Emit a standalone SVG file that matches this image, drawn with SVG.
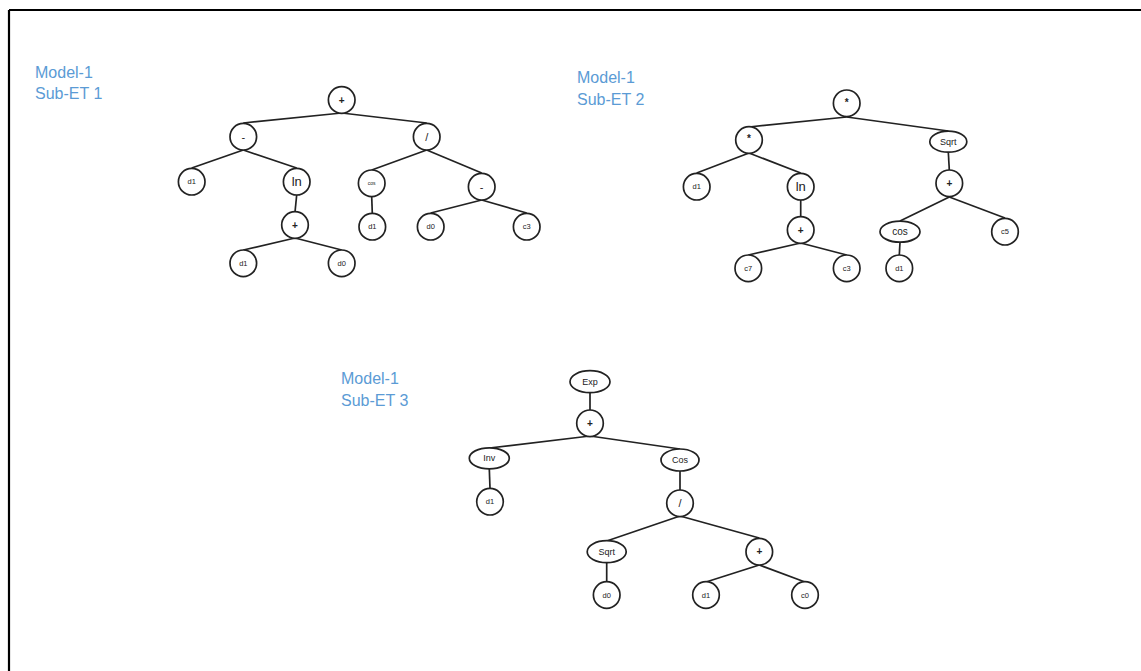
<svg xmlns="http://www.w3.org/2000/svg" width="1141" height="671" viewBox="0 0 1141 671">
<style>
.n{fill:#fff;stroke:#222;stroke-width:1.7}
.e{stroke:#222;stroke-width:1.7;fill:none}
.t{font-family:"Liberation Sans",Arial,sans-serif;fill:#222;text-anchor:middle;dominant-baseline:central}
.s{font-size:7.5px}
.m{font-size:9px}
.p{font-size:10px;font-weight:bold}
.o{font-size:11px}
.lbl{font-family:"Liberation Sans",Arial,sans-serif;font-size:16px;fill:#5b9bd5}
</style>
<rect width="1141" height="671" fill="#fff"/>
<path d="M9 10 H1141 M9 10 V671" stroke="#000" stroke-width="2.2" fill="none"/>
<g id="labels">
<text class="lbl" x="35" y="78">Model-1</text>
<text class="lbl" x="35" y="99">Sub-ET 1</text>
<text class="lbl" x="577" y="83">Model-1</text>
<text class="lbl" x="577" y="105">Sub-ET 2</text>
<text class="lbl" x="341" y="384">Model-1</text>
<text class="lbl" x="341" y="406">Sub-ET 3</text>
</g>
<g id="connectors" class="e">
<line x1="341.7" y1="113" x2="243.3" y2="123"/>
<line x1="341.7" y1="113" x2="426.7" y2="123"/>
<line x1="243.3" y1="150" x2="191.7" y2="168"/>
<line x1="243.3" y1="150" x2="296.7" y2="168"/>
<line x1="296.7" y1="195" x2="295" y2="212"/>
<line x1="295" y1="238" x2="243.3" y2="250"/>
<line x1="295" y1="238" x2="341.7" y2="250"/>
<line x1="426.7" y1="150" x2="371.7" y2="170"/>
<line x1="426.7" y1="150" x2="481.7" y2="173"/>
<line x1="371.7" y1="197" x2="372.3" y2="213"/>
<line x1="481.7" y1="200" x2="430.7" y2="213"/>
<line x1="481.7" y1="200" x2="526.7" y2="213"/>

<line x1="846.7" y1="117" x2="749" y2="127"/>
<line x1="846.7" y1="117" x2="948.3" y2="131"/>
<line x1="749" y1="153" x2="696.7" y2="173"/>
<line x1="749" y1="153" x2="800.7" y2="173"/>
<line x1="800.7" y1="200" x2="800.7" y2="217"/>
<line x1="800.7" y1="243" x2="748.3" y2="255"/>
<line x1="800.7" y1="243" x2="846.7" y2="255"/>
<line x1="948.3" y1="152" x2="949.3" y2="170"/>
<line x1="949.3" y1="197" x2="900" y2="221"/>
<line x1="949.3" y1="197" x2="1005" y2="218"/>
<line x1="900" y1="242" x2="899.3" y2="255"/>

<line x1="590" y1="392" x2="590" y2="410"/>
<line x1="590" y1="436" x2="489.3" y2="448"/>
<line x1="590" y1="436" x2="680" y2="449"/>
<line x1="489.3" y1="469" x2="490" y2="488"/>
<line x1="680" y1="471" x2="680" y2="490"/>
<line x1="680" y1="516" x2="606.7" y2="541"/>
<line x1="680" y1="516" x2="759.3" y2="538"/>
<line x1="606.7" y1="562" x2="606.7" y2="582"/>
<line x1="759.3" y1="565" x2="706" y2="582"/>
<line x1="759.3" y1="565" x2="805" y2="582"/>
</g>

<!-- Tree 1 -->
<g id="t1-root"><circle class="n" cx="341.7" cy="100" r="13.3"/><text class="t p" x="341.7" y="100">+</text></g>
<g id="t1-minus"><circle class="n" cx="243.3" cy="136.7" r="13.3"/><text class="t o" x="243.3" y="136.7">-</text></g>
<g id="t1-div"><circle class="n" cx="426.7" cy="136.7" r="13.3"/><text class="t o" x="426.7" y="136.7">/</text></g>
<g id="t1-d1a"><circle class="n" cx="191.7" cy="181.7" r="13.3"/><text class="t s" x="191.7" y="181.7">d1</text></g>
<g id="t1-ln"><circle class="n" cx="296.7" cy="181.7" r="13.3"/><text class="t" style="font-size:13px" x="296.7" y="181.7">ln</text></g>
<g id="t1-plus"><circle class="n" cx="295" cy="225" r="13.3"/><text class="t p" x="295" y="225">+</text></g>
<g id="t1-d1b"><circle class="n" cx="243.3" cy="263.3" r="13.3"/><text class="t s" x="243.3" y="263.3">d1</text></g>
<g id="t1-d0a"><circle class="n" cx="341.7" cy="263.3" r="13.3"/><text class="t s" x="341.7" y="263.3">d0</text></g>
<g id="t1-cos"><circle class="n" cx="371.7" cy="183.3" r="13.3"/><text class="t" style="font-size:5px" x="371.7" y="183.3">cos</text></g>
<g id="t1-d1c"><circle class="n" cx="372.3" cy="226.7" r="13.3"/><text class="t s" x="372.3" y="226.7">d1</text></g>
<g id="t1-minus2"><circle class="n" cx="481.7" cy="186.7" r="13.3"/><text class="t o" x="481.7" y="186.7">-</text></g>
<g id="t1-d0b"><circle class="n" cx="430.7" cy="226.7" r="13.3"/><text class="t s" x="430.7" y="226.7">d0</text></g>
<g id="t1-c3"><circle class="n" cx="526.7" cy="226.7" r="13.3"/><text class="t s" x="526.7" y="226.7">c3</text></g>

<!-- Tree 2 -->
<g id="t2-root"><circle class="n" cx="846.7" cy="103.3" r="13.3"/><text class="t p" x="846.7" y="102">*</text></g>
<g id="t2-mul"><circle class="n" cx="749" cy="140" r="13.3"/><text class="t p" x="749" y="138.7">*</text></g>
<g id="t2-sqrt"><ellipse class="n" cx="948.3" cy="141.7" rx="18.5" ry="10.5"/><text class="t m" x="948.3" y="141.7">Sqrt</text></g>
<g id="t2-d1a"><circle class="n" cx="696.7" cy="186.7" r="13.3"/><text class="t s" x="696.7" y="186.7">d1</text></g>
<g id="t2-ln"><circle class="n" cx="800.7" cy="186.7" r="13.3"/><text class="t" style="font-size:13px" x="800.7" y="186.7">ln</text></g>
<g id="t2-plus"><circle class="n" cx="800.7" cy="230" r="13.3"/><text class="t p" x="800.7" y="230">+</text></g>
<g id="t2-c7"><circle class="n" cx="748.3" cy="268.3" r="13.3"/><text class="t s" x="748.3" y="268.3">c7</text></g>
<g id="t2-c3"><circle class="n" cx="846.7" cy="268.3" r="13.3"/><text class="t s" x="846.7" y="268.3">c3</text></g>
<g id="t2-plus2"><circle class="n" cx="949.3" cy="183.3" r="13.3"/><text class="t p" x="949.3" y="183.3">+</text></g>
<g id="t2-cos"><ellipse class="n" cx="900" cy="231.7" rx="20" ry="10.5"/><text class="t" style="font-size:10px" x="900" y="231.7">cos</text></g>
<g id="t2-c5"><circle class="n" cx="1005" cy="231.7" r="13.3"/><text class="t s" x="1005" y="231.7">c5</text></g>
<g id="t2-d1b"><circle class="n" cx="899.3" cy="268.3" r="13.3"/><text class="t s" x="899.3" y="268.3">d1</text></g>

<!-- Tree 3 -->
<g id="t3-exp"><ellipse class="n" cx="590" cy="381.7" rx="20" ry="11"/><text class="t m" x="590" y="381.7">Exp</text></g>
<g id="t3-plus"><circle class="n" cx="590" cy="423.3" r="13.3"/><text class="t p" x="590" y="423.3">+</text></g>
<g id="t3-inv"><ellipse class="n" cx="489.3" cy="458.3" rx="20" ry="10.5"/><text class="t m" x="489.3" y="458.3">Inv</text></g>
<g id="t3-d1a"><circle class="n" cx="490" cy="501.7" r="13.3"/><text class="t s" x="490" y="501.7">d1</text></g>
<g id="t3-cos"><ellipse class="n" cx="680" cy="460" rx="19" ry="11"/><text class="t m" x="680" y="460">Cos</text></g>
<g id="t3-div"><circle class="n" cx="680" cy="503.3" r="13.3"/><text class="t o" x="680" y="503.3">/</text></g>
<g id="t3-sqrt"><ellipse class="n" cx="606.7" cy="551.7" rx="19.5" ry="11"/><text class="t m" x="606.7" y="551.7">Sqrt</text></g>
<g id="t3-plus2"><circle class="n" cx="759.3" cy="551.7" r="13.3"/><text class="t p" x="759.3" y="551.7">+</text></g>
<g id="t3-d0"><circle class="n" cx="606.7" cy="595" r="13.3"/><text class="t s" x="606.7" y="595">d0</text></g>
<g id="t3-d1b"><circle class="n" cx="706" cy="595" r="13.3"/><text class="t s" x="706" y="595">d1</text></g>
<g id="t3-c0"><circle class="n" cx="805" cy="595" r="13.3"/><text class="t s" x="805" y="595">c0</text></g>
</svg>
